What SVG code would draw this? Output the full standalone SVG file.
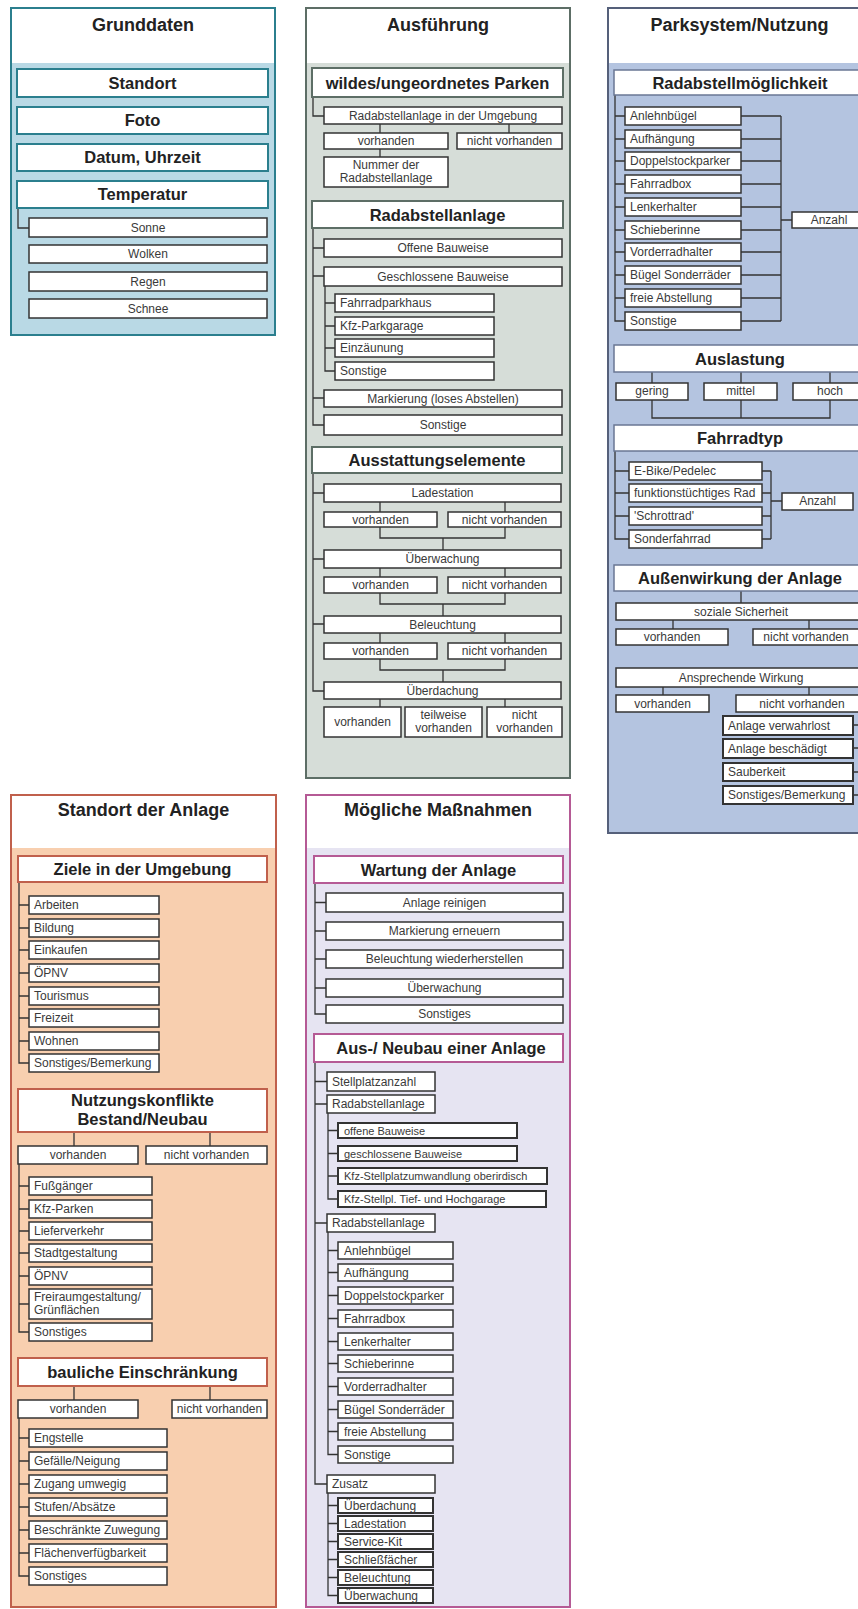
<svg xmlns="http://www.w3.org/2000/svg" width="858" height="1609" viewBox="0 0 858 1609">
<style>
text{font-family:"Liberation Sans",Arial,sans-serif}
.tt{font-size:18px;font-weight:bold;fill:#222;text-anchor:middle}
.h{font-size:16.5px;font-weight:bold;fill:#222;text-anchor:middle}
.t{font-size:12px;fill:#3a3a3a}
.ts{font-size:11px;fill:#3a3a3a}
.c{text-anchor:middle}
.b{fill:#fff;stroke:#333;stroke-width:1.5}
.b2{fill:#fff;stroke:#333;stroke-width:2}
.hgd{fill:#fff;stroke:#2b7f8e;stroke-width:2}
.haf{fill:#fff;stroke:#5d6e66;stroke-width:2}
.hps{fill:#fff;stroke:#6a7794;stroke-width:1.5}
.hsa{fill:#fff;stroke:#c0604c;stroke-width:2}
.hmm{fill:#fff;stroke:#b55a95;stroke-width:2}
.ln{fill:none;stroke:#333;stroke-width:1.3}
</style>
<rect width="858" height="1609" fill="#fff"/>
<!-- section containers -->
<g id="sec-grunddaten"><rect x="11" y="8" width="264" height="327" fill="#b9d9e5" stroke="#2b7f8e" stroke-width="2"/><rect x="12" y="9" width="262" height="54" fill="#fff"/><text class="tt" x="143" y="31">Grunddaten</text></g>
<g id="sec-ausfuehrung"><rect x="306" y="8" width="264" height="770" fill="#d6ddd8" stroke="#5d6e66" stroke-width="2"/><rect x="307" y="9" width="262" height="54" fill="#fff"/><text class="tt" x="438" y="31">Ausführung</text></g>
<g id="sec-parksystem"><rect x="608" y="8" width="263" height="825" fill="#b4c4e0" stroke="#55607a" stroke-width="2"/><rect x="609" y="9" width="261" height="54" fill="#fff"/><text class="tt" x="739.5" y="31">Parksystem/Nutzung</text></g>
<g id="sec-standort"><rect x="11" y="795" width="265" height="812" fill="#f8cfaf" stroke="#c0604c" stroke-width="2"/><rect x="12" y="796" width="263" height="52" fill="#fff"/><text class="tt" x="143.5" y="816">Standort der Anlage</text></g>
<g id="sec-massnahmen"><rect x="306" y="795" width="264" height="812" fill="#e6e4f2" stroke="#b55a95" stroke-width="2"/><rect x="307" y="796" width="262" height="52" fill="#fff"/><text class="tt" x="438" y="816">Mögliche Maßnahmen</text></g>

<g id="connectors">
<path class="ln" d="M18,208V228H29"/>
<path class="ln" d="M313,97V116H324"/>
<path class="ln" d="M380,124V133M509,124V133M380,149V157"/>
<path class="ln" d="M313,228V425H324M313,248H324M313,276H324M313,398H324"/>
<path class="ln" d="M325,286V371H335M325,303H335M325,326H335M325,348H335"/>
<path class="ln" d="M313,473V691H324M313,493H324M313,559H324M313,624H324"/>
<path class="ln" d="M380,502V512M505,502V512M380,527V538H505V527M443,538V550"/>
<path class="ln" d="M380,568V577M505,568V577M380,593V604H505V593M443,604V616"/>
<path class="ln" d="M380,633V643M505,633V643M380,659V670H505V659M443,670V682"/>
<path class="ln" d="M380,699V707M505,699V707"/>
<path class="ln" d="M615,95V321H625M615,116H625M615,139H625M615,161H625M615,184H625M615,207H625M615,230H625M615,252H625M615,275H625M615,298H625"/>
<path class="ln" d="M741,116H781M741,139H781M741,161H781M741,184H781M741,207H781M741,230H781M741,252H781M741,275H781M741,298H781M741,321H781M781,116V321M781,220H792"/>
<path class="ln" d="M652,372V383M741,372V383M830,372V383M652,400V418H830V400M741,400V418"/>
<path class="ln" d="M615,451V539H629M615,471H629M615,493H629M615,516H629"/>
<path class="ln" d="M762,471H771M762,493H771M762,516H771M762,539H771M771,471V539M771,501H782"/>
<path class="ln" d="M741,591V603M673,620V629M809,620V629"/>
<path class="ln" d="M663,687V695M809,687V695"/>
<path class="ln" d="M853,725H863M853,748H863M853,772H863M853,795H863M863,712V795"/>
<path class="ln" d="M19,882V1063H29M19,905H29M19,928H29M19,950H29M19,973H29M19,996H29M19,1018H29M19,1041H29"/>
<path class="ln" d="M74,1132V1146M210,1132V1146"/>
<path class="ln" d="M19,1164V1332H29M19,1186H29M19,1209H29M19,1231H29M19,1253H29M19,1276H29M19,1304H29"/>
<path class="ln" d="M74,1386V1400M210,1386V1400"/>
<path class="ln" d="M19,1418V1576H29M19,1438H29M19,1461H29M19,1484H29M19,1507H29M19,1530H29M19,1553H29"/>
<path class="ln" d="M315,883V1014H326M315,902.5H326M315,931H326M315,959H326M315,988H326"/>
<path class="ln" d="M315,1062V1484H327M315,1081.5H327M315,1104H327M315,1223H327"/>
<path class="ln" d="M328,1113V1199H338M328,1130.5H338M328,1153.5H338M328,1176H338"/>
<path class="ln" d="M328,1232V1454.5H338M328,1250.5H338M328,1272.5H338M328,1295.5H338M328,1318.5H338M328,1341.5H338M328,1363.5H338M328,1386.5H338M328,1409.5H338M328,1431.5H338"/>
<path class="ln" d="M328,1493V1595.5H338M328,1505.5H338M328,1523.5H338M328,1541.5H338M328,1559.5H338M328,1577.5H338"/>
</g>

<g id="gd-standort"><rect class="hgd" x="17" y="69" width="251" height="28"/><text class="h" x="142.5" y="89">Standort</text></g>
<g id="gd-foto"><rect class="hgd" x="17" y="107" width="251" height="27"/><text class="h" x="142.5" y="126">Foto</text></g>
<g id="gd-datum"><rect class="hgd" x="17" y="144" width="251" height="27"/><text class="h" x="142.5" y="163">Datum, Uhrzeit</text></g>
<g id="gd-temperatur"><rect class="hgd" x="17" y="181" width="251" height="27"/><text class="h" x="142.5" y="200">Temperatur</text></g>
<g id="gd-sonne"><rect class="b" x="29" y="218" width="238" height="19"/><text class="t c" x="148" y="232">Sonne</text></g>
<g id="gd-wolken"><rect class="b" x="29" y="245" width="238" height="18"/><text class="t c" x="148" y="258">Wolken</text></g>
<g id="gd-regen"><rect class="b" x="29" y="272" width="238" height="19"/><text class="t c" x="148" y="286">Regen</text></g>
<g id="gd-schnee"><rect class="b" x="29" y="299" width="238" height="19"/><text class="t c" x="148" y="313">Schnee</text></g>

<g id="af-wildes"><rect class="haf" x="312" y="68" width="251" height="29"/><text class="h" x="437.5" y="89">wildes/ungeordnetes Parken</text></g>
<g id="af-umgebung"><rect class="b" x="324" y="107" width="238" height="17"/><text class="t c" x="443" y="120">Radabstellanlage in der Umgebung</text></g>
<g id="af-u-vorh"><rect class="b" x="324" y="133" width="124" height="16"/><text class="t c" x="386" y="145">vorhanden</text></g>
<g id="af-u-nicht"><rect class="b" x="457" y="133" width="105" height="16"/><text class="t c" x="509.5" y="145">nicht vorhanden</text></g>
<g id="af-nummer"><rect class="b" x="324" y="157" width="124" height="30"/><text class="t c" x="386" y="169">Nummer der</text><text class="t c" x="386" y="182">Radabstellanlage</text></g>
<g id="af-radab"><rect class="haf" x="312" y="201" width="251" height="27"/><text class="h" x="437.5" y="221">Radabstellanlage</text></g>
<g id="af-offen"><rect class="b" x="324" y="239" width="238" height="18"/><text class="t c" x="443" y="252">Offene Bauweise</text></g>
<g id="af-geschl"><rect class="b" x="324" y="267" width="238" height="19"/><text class="t c" x="443" y="281">Geschlossene Bauweise</text></g>
<g id="af-fahrradparkhaus"><rect class="b" x="335" y="294" width="159" height="18"/><text class="t" x="340" y="307">Fahrradparkhaus</text></g>
<g id="af-kfzgarage"><rect class="b" x="335" y="317" width="159" height="18"/><text class="t" x="340" y="330">Kfz-Parkgarage</text></g>
<g id="af-einzaeunung"><rect class="b" x="335" y="339" width="159" height="18"/><text class="t" x="340" y="352">Einzäunung</text></g>
<g id="af-g-sonstige"><rect class="b" x="335" y="362" width="159" height="18"/><text class="t" x="340" y="375">Sonstige</text></g>
<g id="af-markierung"><rect class="b" x="324" y="390" width="238" height="17"/><text class="t c" x="443" y="403">Markierung (loses Abstellen)</text></g>
<g id="af-sonstige"><rect class="b" x="324" y="415" width="238" height="20"/><text class="t c" x="443" y="429">Sonstige</text></g>
<g id="af-ausstattung"><rect class="haf" x="312" y="447" width="250" height="26"/><text class="h" x="437" y="466">Ausstattungselemente</text></g>
<g id="af-lade"><rect class="b" x="324" y="484" width="237" height="18"/><text class="t c" x="442.5" y="497">Ladestation</text></g>
<g id="af-lade-v"><rect class="b" x="324" y="512" width="113" height="15"/><text class="t c" x="380.5" y="524">vorhanden</text></g>
<g id="af-lade-n"><rect class="b" x="448" y="512" width="113" height="15"/><text class="t c" x="504.5" y="524">nicht vorhanden</text></g>
<g id="af-ueberw"><rect class="b" x="324" y="550" width="237" height="18"/><text class="t c" x="442.5" y="563">Überwachung</text></g>
<g id="af-ueberw-v"><rect class="b" x="324" y="577" width="113" height="16"/><text class="t c" x="380.5" y="589">vorhanden</text></g>
<g id="af-ueberw-n"><rect class="b" x="448" y="577" width="113" height="16"/><text class="t c" x="504.5" y="589">nicht vorhanden</text></g>
<g id="af-bel"><rect class="b" x="324" y="616" width="237" height="17"/><text class="t c" x="442.5" y="629">Beleuchtung</text></g>
<g id="af-bel-v"><rect class="b" x="324" y="643" width="113" height="16"/><text class="t c" x="380.5" y="655">vorhanden</text></g>
<g id="af-bel-n"><rect class="b" x="448" y="643" width="113" height="16"/><text class="t c" x="504.5" y="655">nicht vorhanden</text></g>
<g id="af-ueberd"><rect class="b" x="324" y="682" width="237" height="17"/><text class="t c" x="442.5" y="695">Überdachung</text></g>
<g id="af-ueberd-v"><rect class="b" x="324" y="707" width="77" height="30"/><text class="t c" x="362.5" y="726">vorhanden</text></g>
<g id="af-ueberd-t"><rect class="b" x="405" y="707" width="77" height="30"/><text class="t c" x="443.5" y="719">teilweise</text><text class="t c" x="443.5" y="732">vorhanden</text></g>
<g id="af-ueberd-n"><rect class="b" x="487" y="707" width="75" height="30"/><text class="t c" x="524.5" y="719">nicht</text><text class="t c" x="524.5" y="732">vorhanden</text></g>

<g id="ps-radab"><rect class="hps" x="614" y="70" width="252" height="25"/><text class="h" x="740" y="89">Radabstellmöglichkeit</text></g>
<g id="ps-anlehn"><rect class="b" x="625" y="107" width="116" height="18"/><text class="t" x="630" y="120">Anlehnbügel</text></g>
<g id="ps-aufh"><rect class="b" x="625" y="130" width="116" height="18"/><text class="t" x="630" y="143">Aufhängung</text></g>
<g id="ps-doppel"><rect class="b" x="625" y="152" width="116" height="18"/><text class="t" x="630" y="165">Doppelstockparker</text></g>
<g id="ps-box"><rect class="b" x="625" y="175" width="116" height="18"/><text class="t" x="630" y="188">Fahrradbox</text></g>
<g id="ps-lenker"><rect class="b" x="625" y="198" width="116" height="18"/><text class="t" x="630" y="211">Lenkerhalter</text></g>
<g id="ps-schiebe"><rect class="b" x="625" y="221" width="116" height="18"/><text class="t" x="630" y="234">Schieberinne</text></g>
<g id="ps-vorder"><rect class="b" x="625" y="243" width="116" height="18"/><text class="t" x="630" y="256">Vorderradhalter</text></g>
<g id="ps-buegel"><rect class="b" x="625" y="266" width="116" height="18"/><text class="t" x="630" y="279">Bügel Sonderräder</text></g>
<g id="ps-frei"><rect class="b" x="625" y="289" width="116" height="18"/><text class="t" x="630" y="302">freie Abstellung</text></g>
<g id="ps-sonstige"><rect class="b" x="625" y="312" width="116" height="18"/><text class="t" x="630" y="325">Sonstige</text></g>
<g id="ps-anzahl1"><rect class="b" x="792" y="212" width="75" height="16"/><text class="t c" x="829" y="224">Anzahl</text></g>
<g id="ps-auslastung"><rect class="hps" x="614" y="345" width="252" height="27"/><text class="h" x="740" y="365">Auslastung</text></g>
<g id="ps-gering"><rect class="b" x="616" y="383" width="72" height="17"/><text class="t c" x="652" y="395">gering</text></g>
<g id="ps-mittel"><rect class="b" x="704" y="383" width="73" height="17"/><text class="t c" x="740.5" y="395">mittel</text></g>
<g id="ps-hoch"><rect class="b" x="793" y="383" width="74" height="17"/><text class="t c" x="830" y="395">hoch</text></g>
<g id="ps-fahrradtyp"><rect class="hps" x="614" y="425" width="252" height="26"/><text class="h" x="740" y="444">Fahrradtyp</text></g>
<g id="ps-ebike"><rect class="b" x="629" y="462" width="133" height="18"/><text class="t" x="634" y="475">E-Bike/Pedelec</text></g>
<g id="ps-funktion"><rect class="b" x="629" y="484" width="133" height="18"/><text class="t" x="634" y="497">funktionstüchtiges Rad</text></g>
<g id="ps-schrott"><rect class="b" x="629" y="507" width="133" height="18"/><text class="t" x="634" y="520">'Schrottrad'</text></g>
<g id="ps-sonderrad"><rect class="b" x="629" y="530" width="133" height="18"/><text class="t" x="634" y="543">Sonderfahrrad</text></g>
<g id="ps-anzahl2"><rect class="b" x="782" y="493" width="71" height="17"/><text class="t c" x="817.5" y="505">Anzahl</text></g>
<g id="ps-aussenwirkung"><rect class="hps" x="614" y="565" width="252" height="26"/><text class="h" x="740" y="584">Außenwirkung der Anlage</text></g>
<g id="ps-sozial"><rect class="b" x="616" y="603" width="252" height="17"/><text class="t c" x="741" y="616">soziale Sicherheit</text></g>
<g id="ps-sozial-v"><rect class="b" x="616" y="629" width="112" height="16"/><text class="t c" x="672" y="641">vorhanden</text></g>
<g id="ps-sozial-n"><rect class="b" x="753" y="629" width="115" height="16"/><text class="t c" x="806" y="641">nicht vorhanden</text></g>
<g id="ps-anspr"><rect class="b" x="616" y="668" width="252" height="19"/><text class="t c" x="741" y="682">Ansprechende Wirkung</text></g>
<g id="ps-anspr-v"><rect class="b" x="616" y="695" width="93" height="17"/><text class="t c" x="662.5" y="708">vorhanden</text></g>
<g id="ps-anspr-n"><rect class="b" x="736" y="695" width="132" height="17"/><text class="t c" x="802" y="708">nicht vorhanden</text></g>
<g id="ps-verwahrlost"><rect class="b2" x="723" y="716" width="130" height="19"/><text class="t" x="728" y="730">Anlage verwahrlost</text></g>
<g id="ps-beschaedigt"><rect class="b2" x="723" y="739" width="130" height="19"/><text class="t" x="728" y="753">Anlage beschädigt</text></g>
<g id="ps-sauberkeit"><rect class="b2" x="723" y="763" width="130" height="18"/><text class="t" x="728" y="776">Sauberkeit</text></g>
<g id="ps-bemerkung"><rect class="b2" x="723" y="786" width="130" height="18"/><text class="t" x="728" y="799">Sonstiges/Bemerkung</text></g>

<g id="sa-ziele"><rect class="hsa" x="18" y="856" width="249" height="26"/><text class="h" x="142.5" y="875">Ziele in der Umgebung</text></g>
<g id="sa-arbeiten"><rect class="b" x="29" y="896" width="130" height="18"/><text class="t" x="34" y="909">Arbeiten</text></g>
<g id="sa-bildung"><rect class="b" x="29" y="919" width="130" height="18"/><text class="t" x="34" y="932">Bildung</text></g>
<g id="sa-einkaufen"><rect class="b" x="29" y="941" width="130" height="18"/><text class="t" x="34" y="954">Einkaufen</text></g>
<g id="sa-oepnv1"><rect class="b" x="29" y="964" width="130" height="18"/><text class="t" x="34" y="977">ÖPNV</text></g>
<g id="sa-tourismus"><rect class="b" x="29" y="987" width="130" height="18"/><text class="t" x="34" y="1000">Tourismus</text></g>
<g id="sa-freizeit"><rect class="b" x="29" y="1009" width="130" height="18"/><text class="t" x="34" y="1022">Freizeit</text></g>
<g id="sa-wohnen"><rect class="b" x="29" y="1032" width="130" height="18"/><text class="t" x="34" y="1045">Wohnen</text></g>
<g id="sa-bemerkung"><rect class="b" x="29" y="1054" width="130" height="18"/><text class="t" x="34" y="1067">Sonstiges/Bemerkung</text></g>
<g id="sa-konflikte"><rect class="hsa" x="18" y="1089" width="249" height="43"/><text class="h" x="142.5" y="1106">Nutzungskonflikte</text><text class="h" x="142.5" y="1125">Bestand/Neubau</text></g>
<g id="sa-k-vorh"><rect class="b" x="18" y="1146" width="120" height="18"/><text class="t c" x="78" y="1159">vorhanden</text></g>
<g id="sa-k-nicht"><rect class="b" x="146" y="1146" width="121" height="18"/><text class="t c" x="206.5" y="1159">nicht vorhanden</text></g>
<g id="sa-fuss"><rect class="b" x="29" y="1177" width="123" height="18"/><text class="t" x="34" y="1190">Fußgänger</text></g>
<g id="sa-kfz"><rect class="b" x="29" y="1200" width="123" height="18"/><text class="t" x="34" y="1213">Kfz-Parken</text></g>
<g id="sa-liefer"><rect class="b" x="29" y="1222" width="123" height="18"/><text class="t" x="34" y="1235">Lieferverkehr</text></g>
<g id="sa-stadt"><rect class="b" x="29" y="1244" width="123" height="18"/><text class="t" x="34" y="1257">Stadtgestaltung</text></g>
<g id="sa-oepnv2"><rect class="b" x="29" y="1267" width="123" height="18"/><text class="t" x="34" y="1280">ÖPNV</text></g>
<g id="sa-freiraum"><rect class="b" x="29" y="1289" width="123" height="30"/><text class="t" x="34" y="1301">Freiraumgestaltung/</text><text class="t" x="34" y="1314">Grünflächen</text></g>
<g id="sa-k-sonstiges"><rect class="b" x="29" y="1323" width="123" height="18"/><text class="t" x="34" y="1336">Sonstiges</text></g>
<g id="sa-baulich"><rect class="hsa" x="18" y="1358" width="249" height="28"/><text class="h" x="142.5" y="1378">bauliche Einschränkung</text></g>
<g id="sa-b-vorh"><rect class="b" x="18" y="1400" width="120" height="18"/><text class="t c" x="78" y="1413">vorhanden</text></g>
<g id="sa-b-nicht"><rect class="b" x="172" y="1400" width="95" height="18"/><text class="t c" x="219.5" y="1413">nicht vorhanden</text></g>
<g id="sa-eng"><rect class="b" x="29" y="1429" width="138" height="18"/><text class="t" x="34" y="1442">Engstelle</text></g>
<g id="sa-gefaelle"><rect class="b" x="29" y="1452" width="138" height="18"/><text class="t" x="34" y="1465">Gefälle/Neigung</text></g>
<g id="sa-zugang"><rect class="b" x="29" y="1475" width="138" height="18"/><text class="t" x="34" y="1488">Zugang umwegig</text></g>
<g id="sa-stufen"><rect class="b" x="29" y="1498" width="138" height="18"/><text class="t" x="34" y="1511">Stufen/Absätze</text></g>
<g id="sa-zuwegung"><rect class="b" x="29" y="1521" width="138" height="18"/><text class="t" x="34" y="1534">Beschränkte Zuwegung</text></g>
<g id="sa-flaechen"><rect class="b" x="29" y="1544" width="138" height="18"/><text class="t" x="34" y="1557">Flächenverfügbarkeit</text></g>
<g id="sa-b-sonstiges"><rect class="b" x="29" y="1567" width="138" height="18"/><text class="t" x="34" y="1580">Sonstiges</text></g>

<g id="mm-wartung"><rect class="hmm" x="314" y="856" width="249" height="27"/><text class="h" x="438.5" y="876">Wartung der Anlage</text></g>
<g id="mm-reinigen"><rect class="b" x="326" y="893" width="237" height="19"/><text class="t c" x="444.5" y="907">Anlage reinigen</text></g>
<g id="mm-markierung"><rect class="b" x="326" y="922" width="237" height="18"/><text class="t c" x="444.5" y="935">Markierung erneuern</text></g>
<g id="mm-beleuchtung"><rect class="b" x="326" y="950" width="237" height="18"/><text class="t c" x="444.5" y="963">Beleuchtung wiederherstellen</text></g>
<g id="mm-ueberwachung"><rect class="b" x="326" y="979" width="237" height="18"/><text class="t c" x="444.5" y="992">Überwachung</text></g>
<g id="mm-w-sonstiges"><rect class="b" x="326" y="1005" width="237" height="18"/><text class="t c" x="444.5" y="1018">Sonstiges</text></g>
<g id="mm-neubau"><rect class="hmm" x="314" y="1034" width="249" height="28"/><text class="h" x="441" y="1054">Aus-/ Neubau einer Anlage</text></g>
<g id="mm-stellplatz"><rect class="b" x="327" y="1072" width="108" height="19"/><text class="t" x="332" y="1086">Stellplatzanzahl</text></g>
<g id="mm-radab1"><rect class="b" x="327" y="1095" width="108" height="18"/><text class="t" x="332" y="1108">Radabstellanlage</text></g>
<g id="mm-offen"><rect class="b2" x="338" y="1123" width="179" height="15"/><text class="ts" x="344" y="1134.5">offene Bauweise</text></g>
<g id="mm-geschl"><rect class="b2" x="338" y="1146" width="179" height="15"/><text class="ts" x="344" y="1157.5">geschlossene Bauweise</text></g>
<g id="mm-kfzumw"><rect class="b2" x="338" y="1168" width="209" height="16"/><text class="ts" x="344" y="1180">Kfz-Stellplatzumwandlung oberirdisch</text></g>
<g id="mm-kfztief"><rect class="b2" x="338" y="1191" width="208" height="16"/><text class="ts" x="344" y="1203">Kfz-Stellpl. Tief- und Hochgarage</text></g>
<g id="mm-radab2"><rect class="b" x="327" y="1214" width="108" height="18"/><text class="t" x="332" y="1227">Radabstellanlage</text></g>
<g id="mm-anlehn"><rect class="b" x="338" y="1242" width="115" height="17"/><text class="t" x="344" y="1255">Anlehnbügel</text></g>
<g id="mm-aufh"><rect class="b" x="338" y="1264" width="115" height="17"/><text class="t" x="344" y="1277">Aufhängung</text></g>
<g id="mm-doppel"><rect class="b" x="338" y="1287" width="115" height="17"/><text class="t" x="344" y="1300">Doppelstockparker</text></g>
<g id="mm-box"><rect class="b" x="338" y="1310" width="115" height="17"/><text class="t" x="344" y="1323">Fahrradbox</text></g>
<g id="mm-lenker"><rect class="b" x="338" y="1333" width="115" height="17"/><text class="t" x="344" y="1346">Lenkerhalter</text></g>
<g id="mm-schiebe"><rect class="b" x="338" y="1355" width="115" height="17"/><text class="t" x="344" y="1368">Schieberinne</text></g>
<g id="mm-vorder"><rect class="b" x="338" y="1378" width="115" height="17"/><text class="t" x="344" y="1391">Vorderradhalter</text></g>
<g id="mm-buegel"><rect class="b" x="338" y="1401" width="115" height="17"/><text class="t" x="344" y="1414">Bügel Sonderräder</text></g>
<g id="mm-frei"><rect class="b" x="338" y="1423" width="115" height="17"/><text class="t" x="344" y="1436">freie Abstellung</text></g>
<g id="mm-sonstige"><rect class="b" x="338" y="1446" width="115" height="17"/><text class="t" x="344" y="1459">Sonstige</text></g>
<g id="mm-zusatz"><rect class="b" x="327" y="1475" width="108" height="18"/><text class="t" x="332" y="1488">Zusatz</text></g>
<g id="mm-z-ueberd"><rect class="b2" x="338" y="1498" width="95" height="15"/><text class="t" x="344" y="1509.5">Überdachung</text></g>
<g id="mm-z-lade"><rect class="b2" x="338" y="1516" width="95" height="15"/><text class="t" x="344" y="1527.5">Ladestation</text></g>
<g id="mm-z-service"><rect class="b2" x="338" y="1534" width="95" height="15"/><text class="t" x="344" y="1545.5">Service-Kit</text></g>
<g id="mm-z-schliess"><rect class="b2" x="338" y="1552" width="95" height="15"/><text class="t" x="344" y="1563.5">Schließfächer</text></g>
<g id="mm-z-bel"><rect class="b2" x="338" y="1570" width="95" height="15"/><text class="t" x="344" y="1581.5">Beleuchtung</text></g>
<g id="mm-z-ueberw"><rect class="b2" x="338" y="1588" width="95" height="15"/><text class="t" x="344" y="1599.5">Überwachung</text></g>
</svg>
